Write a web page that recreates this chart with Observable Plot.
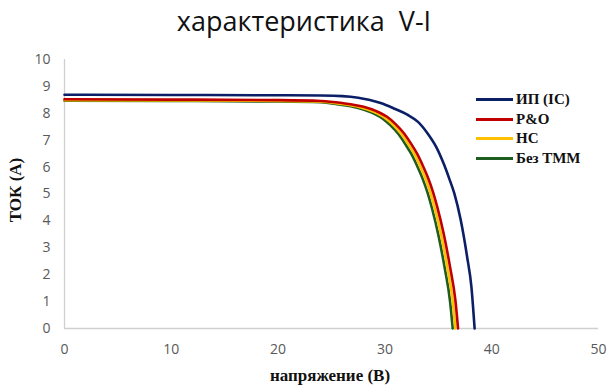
<!DOCTYPE html>
<html>
<head>
<meta charset="utf-8">
<script src="https://cdn.jsdelivr.net/npm/d3@7"></script>
<script src="https://cdn.jsdelivr.net/npm/@observablehq/plot@0.6"></script>
<style>
  html, body { margin: 0; padding: 0; background: #fff; }
  #wrap { position: relative; width: 608px; height: 389px; overflow: hidden; }
  #title { position: absolute; left: 0; top: 2px; width: 608px; text-align: center; white-space: pre;
           font-family: "Open Sans", sans-serif; font-size: 27px; color: #111; }
  .axt { position: absolute; font-family: "Liberation Serif", serif; font-weight: bold;
         font-size: 17px; color: #111; white-space: nowrap; }
  #legend { position: absolute; left: 476px; top: 90px; font-family: "Liberation Serif", serif;
            font-weight: bold; font-size: 15px; color: #111; }
  .li { display: flex; align-items: center; height: 19.5px; }
  .sw { width: 37px; height: 3px; margin-right: 3px; }
  #chart { position: absolute; left: 0; top: 0; }
</style>
</head>
<body>
<div id="wrap">
  <div id="chart"></div>
  <div id="title"></div>
  <div id="ylab" class="axt"></div>
  <div id="xlab" class="axt"></div>
  <div id="legend"></div>
</div>
<script>
const titleText = "характеристика  V-I";
const xLabel = "напряжение (В)";
const yLabel = "ТОК (А)";
const seriesNames = ["ИП (IC)", "P&O", "HC", "Без ТММ"];
const seriesColors = ["#0b1f66", "#c00000", "#ffc000", "#1f5c1f"];
const xTicks = [0, 10, 20, 30, 40, 50];
const yTicks = [0, 1, 2, 3, 4, 5, 6, 7, 8, 9, 10];

// ИП (IC)
const icV = [0, 10, 20, 24, 26, 27.5, 28.5, 29.6, 30.9, 32.1, 33.1, 34.0, 34.8, 35.5, 36.0, 36.5, 37.1, 37.7, 38.1, 38.4];
const icI = [8.69, 8.68, 8.67, 8.66, 8.64, 8.58, 8.50, 8.38, 8.17, 7.95, 7.68, 7.25, 6.75, 6.13, 5.60, 5.02, 4.03, 2.66, 1.55, 0];
// P&O
const poV = [0, 10, 20, 24, 26, 28.0, 29.2, 30.2, 31.0, 31.8, 32.4, 33.0, 33.5, 34.0, 34.5, 34.9, 35.5, 36.1, 36.6, 36.85];
const poI = [8.52, 8.51, 8.49, 8.46, 8.38, 8.24, 8.08, 7.87, 7.60, 7.25, 6.90, 6.51, 6.10, 5.64, 5.08, 4.52, 3.53, 2.29, 1.05, 0];
// HC
const hcV = [0, 10, 20, 24, 25.75, 27.75, 28.95, 29.95, 30.75, 31.55, 32.15, 32.75, 33.25, 33.75, 34.25, 34.65, 35.25, 35.85, 36.35, 36.6];
const hcI = [8.49, 8.48, 8.46, 8.43, 8.36, 8.22, 8.06, 7.85, 7.58, 7.23, 6.88, 6.49, 6.08, 5.62, 5.06, 4.50, 3.51, 2.27, 1.03, 0];
// Без ТММ
const noV = [0, 10, 20, 24, 25.5, 27.5, 28.7, 29.7, 30.5, 31.3, 31.9, 32.5, 33.0, 33.5, 34.0, 34.4, 35.0, 35.6, 36.1, 36.35];
const noI = [8.47, 8.46, 8.44, 8.41, 8.34, 8.20, 8.04, 7.83, 7.56, 7.21, 6.86, 6.47, 6.06, 5.60, 5.04, 4.48, 3.49, 2.25, 1.01, 0];

const allV = [icV, poV, hcV, noV];
const allI = [icI, poI, hcI, noI];

const lineMarks = allV.map((vs, k) =>
  Plot.line(vs.map((v, j) => ({v, i: allI[k][j]})), {
    x: "v", y: "i", stroke: seriesColors[k], strokeWidth: 2.6, curve: "monotone-x"
  })
);

const plot = Plot.plot({
  width: 608,
  height: 389,
  marginTop: 59,
  marginLeft: 64,
  marginRight: 10,
  marginBottom: 61,
  x: {domain: [0, 50]},
  y: {domain: [0, 10]},
  style: {background: "transparent"},
  marks: [
    Plot.ruleY([0], {stroke: "#d0d0d0", strokeWidth: 1.3}),
    Plot.ruleX([0], {stroke: "#d0d0d0", strokeWidth: 1.3}),
    Plot.axisX({ticks: xTicks, tickSize: 0, tickPadding: 16, label: null,
      fontSize: 14, fontFamily: "Open Sans, sans-serif", fill: "#595959"}),
    Plot.axisY({ticks: yTicks, tickSize: 0, tickPadding: 14, label: null,
      fontSize: 14, fontFamily: "Open Sans, sans-serif", fill: "#595959"}),
    ...lineMarks.reverse()
  ]
});
document.getElementById("chart").appendChild(plot);

document.getElementById("title").textContent = titleText;
const xl = document.getElementById("xlab");
xl.textContent = xLabel;
xl.style.left = "330px"; xl.style.top = "366px"; xl.style.transform = "translateX(-50%)";
const yl = document.getElementById("ylab");
yl.textContent = yLabel;
yl.style.left = "16px"; yl.style.top = "190px";
yl.style.transform = "translate(-50%, -50%) rotate(-90deg)";

const lg = document.getElementById("legend");
seriesNames.forEach((n, k) => {
  const row = document.createElement("div");
  row.className = "li";
  const sw = document.createElement("div");
  sw.className = "sw";
  sw.style.background = seriesColors[k];
  const t = document.createElement("span");
  t.textContent = n;
  row.appendChild(sw); row.appendChild(t);
  lg.appendChild(row);
});
</script>
</body>
</html>
